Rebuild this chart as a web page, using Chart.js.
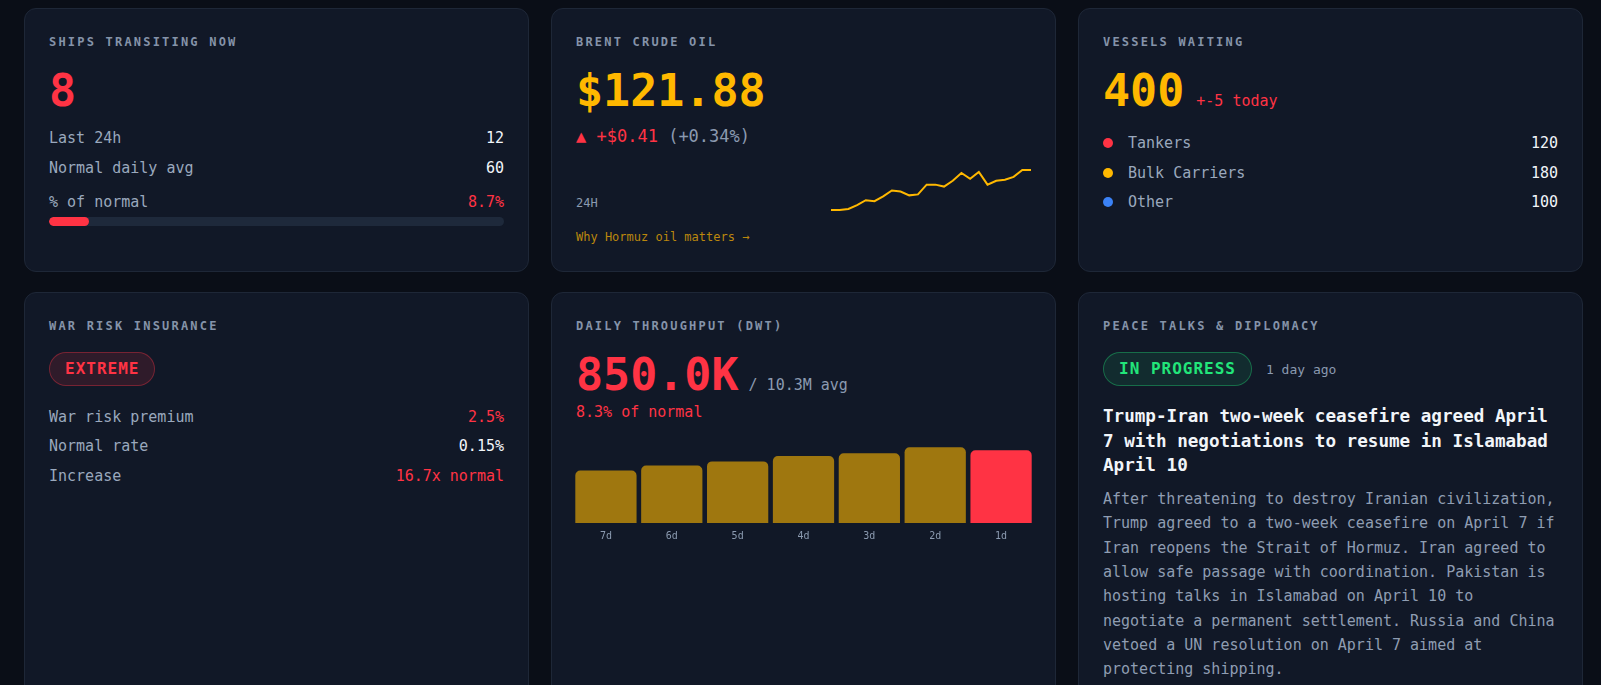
<!DOCTYPE html>
<html>
<head>
<meta charset="utf-8">
<script src="https://cdn.jsdelivr.net/npm/chart.js@4.4.1/dist/chart.umd.min.js"></script>
<style>
  * { box-sizing: border-box; margin: 0; padding: 0; }
  html, body { background: #0a0e17; width: 1601px; height: 685px; overflow: hidden; }
  body { font-family: "DejaVu Sans Mono", monospace; color: #f1f5f9; position: relative; }
  .grid {
    position: absolute; left: 24px; top: 8px;
    display: grid;
    grid-template-columns: repeat(3, 505px);
    grid-template-rows: 264px 440px;
    column-gap: 22px; row-gap: 20px;
  }
  .card { background: #111827; border: 1px solid #1e2737; border-radius: 12px; padding: 24px; overflow: hidden; }
  .title { font-size: 12px; line-height: 18px; letter-spacing: 2.2px; font-weight: 700; color: #8593a9; }
  .big { font-size: 45px; line-height: 46px; font-weight: 700; margin-top: 17px; }
  .red { color: #ff3344; }
  .amber { color: #ffb800; }
  .muted { color: #8b9ab0; }
  .row { display: flex; justify-content: space-between; font-size: 15px; line-height: 22px; color: #9aa8bd; }
  .row .v { color: #f1f5f9; }
  .row .v.red { color: #ff3344; }
  .track { height: 9px; border-radius: 5px; background: #1e293b; margin-top: 4px; overflow: hidden; }
  .fill { height: 100%; border-radius: 5px; background: #ff3344; }
  .change { font-size: 17px; line-height: 24px; margin-top: 10px; }
  .spark { display: flex; justify-content: space-between; align-items: flex-end; height: 48px; margin-top: 18px; }
  .spark .lbl { font-size: 12px; line-height: 16px; color: #8b9ab0; margin-bottom: 3px; }
  .spark .cv { position: relative; width: 200px; height: 48px; }
  .link { font-size: 12px; line-height: 16px; margin-top: 15px; color: #bb870d; }
  .bigrow { display: flex; align-items: baseline; margin-top: 17px; }
  .bigrow .big { margin-top: 0; }
  .sub { font-size: 15px; margin-left: 12px; }
  .legend { margin-top: 18px; }
  .legend .item { display: flex; align-items: center; font-size: 15px; line-height: 22px; color: #9aa8bd; margin-bottom: 7.5px; }
  .legend .dot { width: 10px; height: 10px; border-radius: 50%; margin-right: 15px; }
  .legend .n { margin-left: auto; color: #f1f5f9; }
  .badge { display: inline-block; font-size: 16px; line-height: 20px; font-weight: 700; letter-spacing: 1px; padding: 6px 15px; border-radius: 18px; }
  .badge.bad { color: #ff3344; background: rgba(255, 51, 68, 0.13); border: 1px solid rgba(255, 51, 68, 0.35); }
  .badge.good { color: #22e57a; background: rgba(34, 229, 122, 0.1); border: 1px solid rgba(34, 229, 122, 0.35); }
  .stack { margin-top: 19.5px; }
  .stack .row { margin-bottom: 7.5px; }
  .avg { font-size: 15px; color: #8b9ab0; margin-left: 10px; }
  .pct { font-size: 15px; line-height: 22px; margin-top: 3px; }
  .bars { position: relative; height: 109px; margin: 17px -3px 0 -3px; }
  .badgerow { display: flex; align-items: center; margin-top: 17px; }
  .ago { font-size: 13px; color: #8b9ab0; margin-left: 14px; }
  .headline { font-size: 17.6px; line-height: 24.7px; font-weight: 700; color: #f1f5f9; margin-top: 18px; }
  .body { font-size: 15px; line-height: 24.3px; color: #8f9db2; margin-top: 9px; }
</style>
</head>
<body>
<div class="grid">
  <div class="card">
    <div class="title">SHIPS TRANSITING NOW</div>
    <div class="big red">8</div>
    <div class="row" style="margin-top:13px"><span>Last 24h</span><span class="v">12</span></div>
    <div class="row" style="margin-top:8px"><span>Normal daily avg</span><span class="v">60</span></div>
    <div class="row" style="margin-top:12px"><span>% of normal</span><span class="v red">8.7%</span></div>
    <div class="track"><div class="fill" style="width:8.7%"></div></div>
  </div>

  <div class="card">
    <div class="title">BRENT CRUDE OIL</div>
    <div class="big amber">$121.88</div>
    <div class="change"><span class="red">▲ +$0.41</span> <span class="muted">(+0.34%)</span></div>
    <div class="spark">
      <span class="lbl">24H</span>
      <div class="cv"><canvas id="oilChart"></canvas></div>
    </div>
    <div class="link">Why Hormuz oil matters →</div>
  </div>

  <div class="card">
    <div class="title">VESSELS WAITING</div>
    <div class="bigrow"><span class="big amber">400</span><span class="sub red">+-5 today</span></div>
    <div class="legend" id="vesselLegend"></div>
  </div>

  <div class="card">
    <div class="title">WAR RISK INSURANCE</div>
    <div style="margin-top:17px"><span class="badge bad">EXTREME</span></div>
    <div class="stack">
      <div class="row"><span>War risk premium</span><span class="v red">2.5%</span></div>
      <div class="row"><span>Normal rate</span><span class="v">0.15%</span></div>
      <div class="row"><span>Increase</span><span class="v red">16.7x normal</span></div>
    </div>
  </div>

  <div class="card">
    <div class="title">DAILY THROUGHPUT (DWT)</div>
    <div class="bigrow"><span class="big red">850.0K</span><span class="avg">/ 10.3M avg</span></div>
    <div class="pct red">8.3% of normal</div>
    <div class="bars"><canvas id="dwtChart"></canvas></div>
  </div>

  <div class="card">
    <div class="title">PEACE TALKS &amp; DIPLOMACY</div>
    <div class="badgerow"><span class="badge good">IN PROGRESS</span><span class="ago">1 day ago</span></div>
    <div class="headline">Trump-Iran two-week ceasefire agreed April 7 with negotiations to resume in Islamabad April 10</div>
    <div class="body">After threatening to destroy Iranian civilization, Trump agreed to a two-week ceasefire on April 7 if Iran reopens the Strait of Hormuz. Iran agreed to allow safe passage with coordination. Pakistan is hosting talks in Islamabad on April 10 to negotiate a permanent settlement. Russia and China vetoed a UN resolution on April 7 aimed at protecting shipping.</div>
  </div>
</div>

<script>
'use strict'

// brent crude, last 24 hourly prices
let oilHours = ['-23h', '-22h', '-21h', '-20h', '-19h', '-18h', '-17h', '-16h', '-15h', '-14h', '-13h', '-12h',
    '-11h', '-10h', '-9h', '-8h', '-7h', '-6h', '-5h', '-4h', '-3h', '-2h', '-1h', 'now'];
let oilPrices = [121.47, 121.47, 121.48, 121.52, 121.57, 121.56, 121.61, 121.67, 121.66, 121.62, 121.63, 121.73,
    121.73, 121.71, 121.77, 121.85, 121.79, 121.86, 121.73, 121.77, 121.78, 121.81, 121.88, 121.88];

// daily throughput in dwt
let dayLabels = ['7d', '6d', '5d', '4d', '3d', '2d', '1d'];
let dwtValues = [613000, 672000, 720000, 782000, 814000, 885000, 850000];
let dwtAxisMax = 900000;

// vessels waiting
let vesselTypes = ['Tankers', 'Bulk Carriers', 'Other'];
let vesselCounts = [120, 180, 100];
let vesselColors = ['#ff3344', '#ffb800', '#3b82f6'];

let legendEl = document.getElementById('vesselLegend');
for (let i = 0; i < vesselTypes.length; i++) {
    let item = document.createElement('div');
    item.className = 'item';
    item.innerHTML = `<span class="dot" style="background:${vesselColors[i]}"></span><span>${vesselTypes[i]}</span><span class="n">${vesselCounts[i]}</span>`;
    legendEl.appendChild(item);
}

Chart.defaults.font.family = '"DejaVu Sans Mono", monospace';
Chart.defaults.animation = false;

new Chart(document.getElementById('oilChart'), {
    type: 'line',
    data: {
        labels: oilHours,
        datasets: [{
            data: oilPrices,
            borderColor: '#ffb800',
            borderWidth: 2,
            pointRadius: 0,
            tension: 0,
            fill: false
        }]
    },
    options: {
        responsive: true,
        maintainAspectRatio: false,
        layout: { padding: { top: 4, bottom: 4, left: 0, right: 0 } },
        plugins: { legend: { display: false }, tooltip: { enabled: false } },
        events: [],
        scales: {
            x: { display: false },
            y: { display: false, bounds: 'data' }
        }
    }
});

let barColors = dwtValues.map((v, i) => i === dwtValues.length - 1 ? '#ff3344' : 'rgba(255, 184, 0, 0.6)');

new Chart(document.getElementById('dwtChart'), {
    type: 'bar',
    data: {
        labels: dayLabels,
        datasets: [{
            data: dwtValues,
            backgroundColor: barColors,
            borderRadius: 5,
            barPercentage: 0.93,
            categoryPercentage: 1
        }]
    },
    options: {
        responsive: true,
        maintainAspectRatio: false,
        layout: { padding: { top: 6, left: 0, right: 0, bottom: 0 } },
        plugins: { legend: { display: false }, tooltip: { enabled: false } },
        events: [],
        scales: {
            x: {
                grid: { display: false, drawTicks: false },
                border: { display: false },
                ticks: { color: '#8b9ab0', font: { size: 10 }, padding: 7 }
            },
            y: { display: false, beginAtZero: true, max: dwtAxisMax }
        }
    }
});
</script>
</body>
</html>
